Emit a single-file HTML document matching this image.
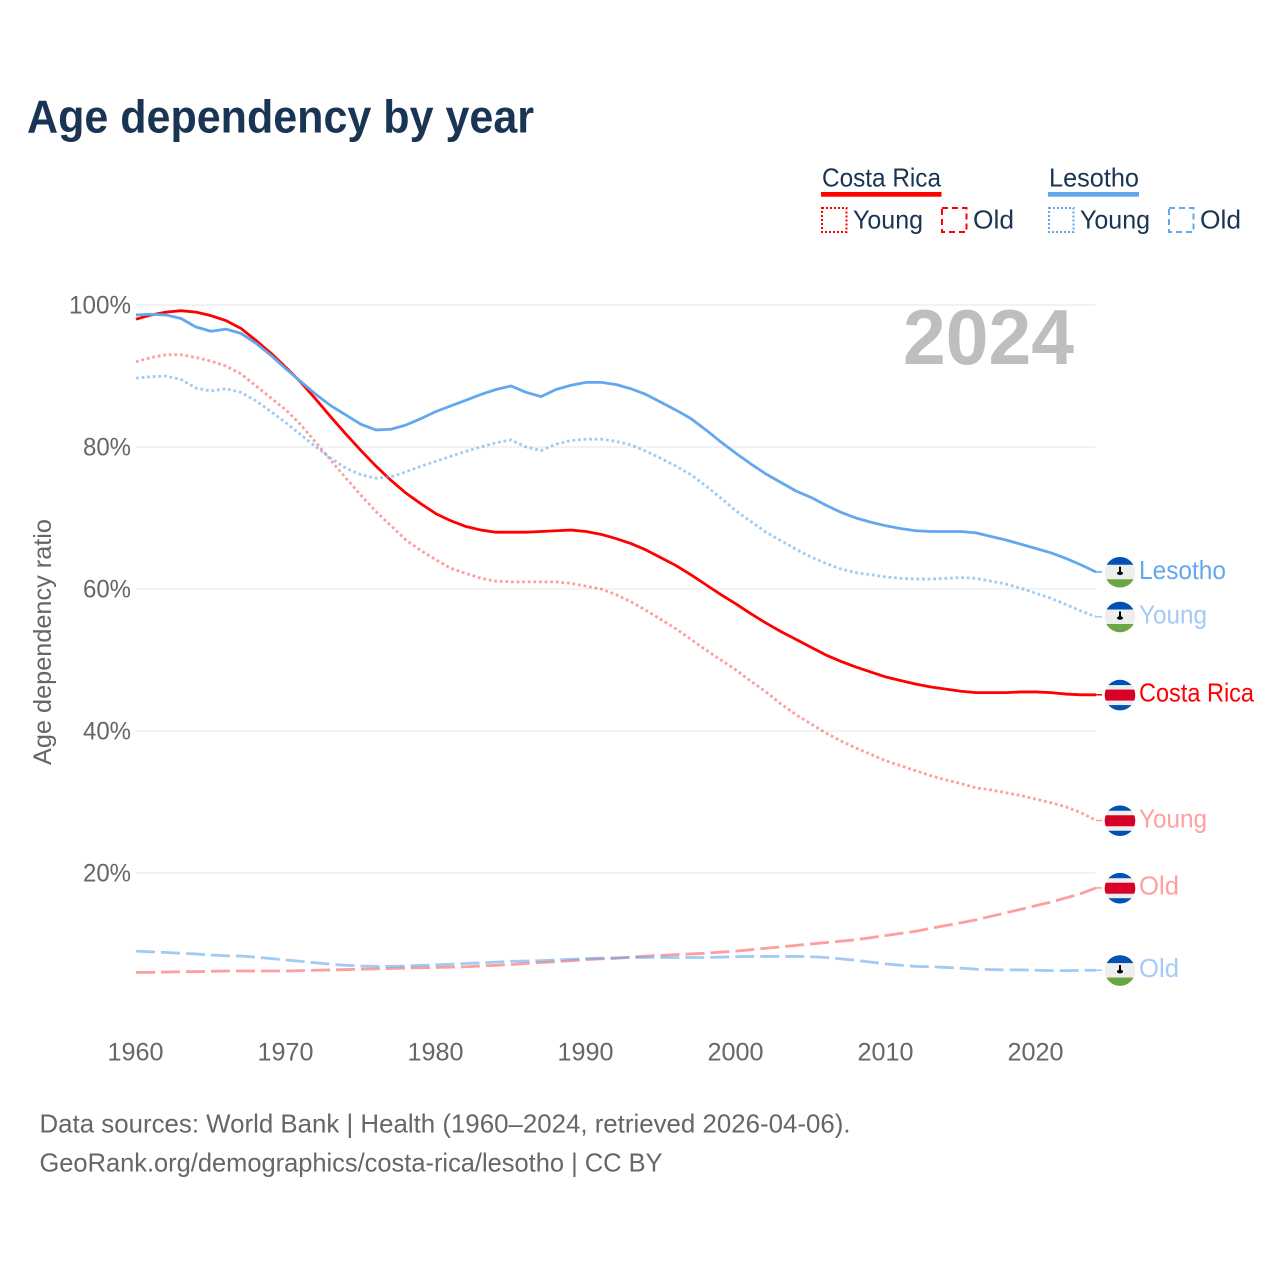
<!DOCTYPE html>
<html lang="en">
<head>
<meta charset="utf-8">
<title>Age dependency by year</title>
<style>
html,body{margin:0;padding:0;background:#fff;}
svg{display:block;font-family:"Liberation Sans",sans-serif;}
</style>
</head>
<body>
<svg id="chart" xmlns="http://www.w3.org/2000/svg" width="1280" height="1280" viewBox="0 0 1280 1280">
  <defs>
    <clipPath id="flag-clip"><circle cx="15.5" cy="15.5" r="15.3"/></clipPath>
    <symbol id="flag-ls" width="31" height="31" viewBox="0 0 31 31">
      <g clip-path="url(#flag-clip)">
        <rect width="31" height="31" fill="#eeeeee"/>
        <rect width="31" height="8" fill="#0052b4"/>
        <rect y="22.5" width="31" height="8.5" fill="#6da544"/>
        <rect x="14.5" y="10" width="2" height="6" fill="#000"/>
        <ellipse cx="15.5" cy="16.5" rx="3" ry="1.8" fill="#000"/>
      </g>
    </symbol>
    <symbol id="flag-cr" width="31" height="31" viewBox="0 0 31 31">
      <g clip-path="url(#flag-clip)">
        <rect width="31" height="31" fill="#eeeeee"/>
        <rect width="31" height="5.5" fill="#0052b4"/>
        <rect y="10" width="31" height="11" fill="#d80027"/>
        <rect y="25.5" width="31" height="5.5" fill="#0052b4"/>
      </g>
    </symbol>
  </defs>
  <rect width="1280" height="1280" fill="#ffffff"/>
  <text x="27" y="132.500" font-size="46" font-weight="700" fill="#1a3454" textLength="507" lengthAdjust="spacingAndGlyphs">Age dependency by year</text>

  <g font-size="26" fill="#1a3454">
    <text x="822" y="186.300" textLength="119" lengthAdjust="spacingAndGlyphs">Costa Rica</text>
    <rect x="821" y="192" width="120.500" height="4.700" fill="#ff0000"/>
    <rect x="822" y="208" width="24.500" height="24" fill="none" stroke="#ff0000" stroke-width="2" stroke-dasharray="2 2"/>
    <text x="853" y="228.300" textLength="70" lengthAdjust="spacingAndGlyphs">Young</text>
    <rect x="942" y="208" width="24.500" height="24" fill="none" stroke="#ff0000" stroke-width="2" stroke-dasharray="6 4"/>
    <text x="973" y="228.300" textLength="41" lengthAdjust="spacingAndGlyphs">Old</text>

    <text x="1049" y="186.300" textLength="90" lengthAdjust="spacingAndGlyphs">Lesotho</text>
    <rect x="1048" y="192" width="91" height="4.700" fill="#63a8ee"/>
    <rect x="1049" y="208" width="24.500" height="24" fill="none" stroke="#63a8ee" stroke-width="2" stroke-dasharray="2 2"/>
    <text x="1080" y="228.300" textLength="70" lengthAdjust="spacingAndGlyphs">Young</text>
    <rect x="1169" y="208" width="24.500" height="24" fill="none" stroke="#63a8ee" stroke-width="2" stroke-dasharray="6 4"/>
    <text x="1200" y="228.300" textLength="41" lengthAdjust="spacingAndGlyphs">Old</text>
  </g>

  <g id="grid"></g>
  <g id="y-axis"></g>
  <g id="x-axis"></g>
  <text x="903" y="364" font-size="78" font-weight="700" fill="#bebebe" textLength="171" lengthAdjust="spacingAndGlyphs">2024</text>
  <text transform="translate(51,765) rotate(-90)" font-size="25" fill="#666666" textLength="246" lengthAdjust="spacingAndGlyphs">Age dependency ratio</text>
  <g id="series"></g>
  <g id="end-labels"></g>

  <text x="39.500" y="1132.300" font-size="26" fill="#666666" textLength="811" lengthAdjust="spacingAndGlyphs">Data sources: World Bank | Health (1960–2024, retrieved 2026-04-06).</text>
  <text x="39.500" y="1171.300" font-size="26" fill="#666666" textLength="623" lengthAdjust="spacingAndGlyphs">GeoRank.org/demographics/costa-rica/lesotho | CC BY</text>
</svg>
<script>
const startYear = 1960;
const xTicks = [1960, 1970, 1980, 1990, 2000, 2010, 2020];
const yTicks = [20, 40, 60, 80, 100];
const yTickLabels = ['20%', '40%', '60%', '80%', '100%'];

const costaRicaTotal = [
  98.0, 98.6, 99.0, 99.2, 99.0, 98.5, 97.8, 96.7, 95.0, 93.2,
  91.2, 89.1, 86.7, 84.2, 81.8, 79.5, 77.3, 75.3, 73.5, 72.0,
  70.6, 69.6, 68.8, 68.3, 68.0, 68.0, 68.0, 68.1, 68.2, 68.3,
  68.1, 67.7, 67.1, 66.4, 65.5, 64.4, 63.3, 62.0, 60.6, 59.2,
  57.9, 56.5, 55.2, 54.0, 52.9, 51.8, 50.7, 49.8, 49.0, 48.3,
  47.6, 47.1, 46.6, 46.2, 45.9, 45.6, 45.4, 45.4, 45.4, 45.5,
  45.5, 45.4, 45.2, 45.1, 45.1
];
const costaRicaYoung = [
  92.0, 92.6, 93.0, 93.0, 92.6, 92.1, 91.4, 90.3, 88.6, 86.9,
  85.2, 83.1, 80.6, 78.1, 75.6, 73.2, 70.9, 68.9, 66.9, 65.4,
  64.1, 62.9, 62.2, 61.5, 61.1, 61.0, 61.0, 61.0, 61.0, 60.8,
  60.4, 60.0, 59.2, 58.2, 57.0, 55.7, 54.4, 52.9, 51.4, 50.0,
  48.6, 47.0, 45.5, 43.8, 42.3, 41.0, 39.7, 38.6, 37.6, 36.7,
  35.8, 35.1, 34.4, 33.7, 33.1, 32.6, 32.0, 31.7, 31.3, 30.9,
  30.4, 29.9, 29.3, 28.5, 27.4
];
const costaRicaOld = [
  6.0, 6.0, 6.05, 6.1, 6.1, 6.15, 6.2, 6.2, 6.2, 6.2,
  6.2, 6.25, 6.3, 6.35, 6.4, 6.45, 6.5, 6.55, 6.6, 6.65,
  6.7, 6.75, 6.8, 6.9, 7.0, 7.1, 7.25, 7.4, 7.5, 7.65,
  7.8, 7.9, 8.0, 8.15, 8.3, 8.4, 8.5, 8.6, 8.7, 8.85,
  9.0, 9.2, 9.4, 9.6, 9.8, 10.0, 10.2, 10.4, 10.6, 10.9,
  11.2, 11.5, 11.8, 12.2, 12.6, 13.0, 13.4, 13.9, 14.4, 14.9,
  15.4, 15.9, 16.5, 17.1, 17.9
];
const lesothoTotal = [
  98.6, 98.7, 98.6, 98.1, 96.9, 96.3, 96.6, 96.0, 94.6, 92.9,
  91.0, 89.2, 87.4, 85.8, 84.5, 83.2, 82.4, 82.5, 83.1, 84.0,
  85.0, 85.8, 86.6, 87.4, 88.1, 88.6, 87.7, 87.1, 88.1, 88.7,
  89.1, 89.1, 88.8, 88.2, 87.4, 86.3, 85.2, 84.0, 82.4, 80.7,
  79.1, 77.6, 76.2, 75.0, 73.8, 72.9, 71.8, 70.8, 70.0, 69.4,
  68.9, 68.5, 68.2, 68.1, 68.1, 68.1, 67.9, 67.4, 66.9, 66.3,
  65.7, 65.1, 64.3, 63.4, 62.4
];
const lesothoYoung = [
  89.7, 89.9, 90.0, 89.5, 88.3, 87.9, 88.2, 87.7, 86.5, 85.0,
  83.4, 81.7, 80.0, 78.4, 77.0, 76.1, 75.6, 75.8, 76.5, 77.3,
  78.0, 78.7, 79.4, 80.0, 80.6, 81.0, 80.0, 79.5, 80.4, 80.9,
  81.1, 81.1, 80.8, 80.3, 79.4, 78.4, 77.3, 76.1, 74.5, 72.8,
  71.0, 69.5, 68.0, 66.8, 65.6, 64.5, 63.6, 62.8, 62.3, 62.0,
  61.7, 61.5, 61.4, 61.4, 61.5, 61.6, 61.5, 61.1, 60.7, 60.1,
  59.4, 58.7, 57.8, 56.9, 56.1
];
const lesothoOld = [
  9.0, 8.9, 8.8, 8.7, 8.6, 8.45, 8.35, 8.3, 8.15, 7.95,
  7.75, 7.55, 7.35, 7.15, 7.0, 6.9, 6.85, 6.85, 6.9, 7.0,
  7.05, 7.15, 7.25, 7.35, 7.45, 7.55, 7.6, 7.65, 7.75, 7.85,
  7.95, 8.0, 8.05, 8.1, 8.1, 8.1, 8.1, 8.1, 8.1, 8.15,
  8.2, 8.25, 8.25, 8.25, 8.25, 8.2, 8.1, 7.9, 7.7, 7.45,
  7.2, 7.0, 6.85, 6.8, 6.7, 6.6, 6.45, 6.4, 6.35, 6.35,
  6.3, 6.25, 6.25, 6.3, 6.3
];

const NS = 'http://www.w3.org/2000/svg';
function xScale(year) { return 136 + (year - 1960) * 15; }
function yScale(v) { return 305 + (100 - v) * 7.1; }
function make(tag, parent) {
  const el = document.createElementNS(NS, tag);
  parent.appendChild(el);
  return el;
}

const gridGroup = document.getElementById('grid');
const yAxisGroup = document.getElementById('y-axis');
yTicks.forEach(function (tick, i) {
  const line = make('line', gridGroup);
  
  
  line.setAttribute('x1', 136);
  line.setAttribute('x2', 1095);
  line.setAttribute('y1', yScale(tick));
  line.setAttribute('y2', yScale(tick));
  line.setAttribute('stroke', '#eeeeee');
  line.setAttribute('stroke-width', 1.5);
  const label = make('text', yAxisGroup);
  
  
  const width = yTickLabels[i].length === 4 ? 62 : 48;
  label.setAttribute('x', 131 - width);
  label.setAttribute('y', yScale(tick) + 8.3);
  label.setAttribute('font-size', 25);
  label.setAttribute('fill', '#666666');
  label.setAttribute('textLength', width);
  label.setAttribute('lengthAdjust', 'spacingAndGlyphs');
  label.textContent = yTickLabels[i];
});

const xAxisGroup = document.getElementById('x-axis');
xTicks.forEach(function (tick) {
  const label = make('text', xAxisGroup);
  
  
  label.setAttribute('x', xScale(tick) - 28.5);
  label.setAttribute('y', 1060.3);
  label.setAttribute('font-size', 25);
  label.setAttribute('fill', '#666666');
  label.setAttribute('textLength', 56);
  label.setAttribute('lengthAdjust', 'spacingAndGlyphs');
  label.textContent = String(tick);
});

const seriesGroup = document.getElementById('series');
const labelGroup = document.getElementById('end-labels');

function drawSeries(name, values, color, opacity, dash, width) {
  const points = values.map(function (v, i) {
    return xScale(startYear + i).toFixed(1) + ',' + yScale(v).toFixed(2);
  }).join(' ');
  const path = make('polyline', seriesGroup);
  
  
  path.setAttribute('points', points);
  path.setAttribute('fill', 'none');
  path.setAttribute('stroke', color);
  path.setAttribute('stroke-opacity', opacity);
  path.setAttribute('stroke-width', width);
  path.setAttribute('stroke-linejoin', 'round');
  if (dash) path.setAttribute('stroke-dasharray', dash);
  const last = yScale(values[values.length - 1]);
  const connector = make('line', seriesGroup);
  
  
  connector.setAttribute('x1', xScale(startYear + values.length - 1));
  connector.setAttribute('x2', 1102);
  connector.setAttribute('y1', last);
  connector.setAttribute('y2', last);
  connector.setAttribute('stroke', color);
  connector.setAttribute('stroke-opacity', opacity);
  connector.setAttribute('stroke-width', 1.5);
}

function drawEndLabel(name, values, flag, text, textWidth, color) {
  const last = yScale(values[values.length - 1]);
  const use = make('use', labelGroup);
  
  
  use.setAttribute('href', '#' + flag);
  use.setAttribute('x', 1104.5);
  use.setAttribute('y', last - 15.2);
  use.setAttribute('width', 31);
  use.setAttribute('height', 31);
  const label = make('text', labelGroup);
  
  
  label.setAttribute('x', 1139);
  label.setAttribute('y', last + 6.8);
  label.setAttribute('font-size', 26);
  label.setAttribute('fill', color);
  label.setAttribute('textLength', textWidth);
  label.setAttribute('lengthAdjust', 'spacingAndGlyphs');
  label.textContent = text;
}

drawSeries('costa-rica-old', costaRicaOld, '#ff0000', 0.38, '19 6', 2.8);
drawSeries('costa-rica-young', costaRicaYoung, '#ff0000', 0.38, '2.8 2.8', 2.8);
drawSeries('costa-rica-total', costaRicaTotal, '#ff0000', 1, '', 2.8);
drawSeries('lesotho-old', lesothoOld, '#63a8ee', 0.6, '19 6', 2.8);
drawSeries('lesotho-young', lesothoYoung, '#63a8ee', 0.6, '2.8 2.8', 2.8);
drawSeries('lesotho-total', lesothoTotal, '#63a8ee', 1, '', 2.8);

drawEndLabel('lesotho-total', lesothoTotal, 'flag-ls', 'Lesotho', 87, '#63a8ee');
drawEndLabel('lesotho-young', lesothoYoung, 'flag-ls', 'Young', 68, '#a2cbf5');
drawEndLabel('costa-rica-total', costaRicaTotal, 'flag-cr', 'Costa Rica', 115, '#ff0000');
drawEndLabel('costa-rica-young', costaRicaYoung, 'flag-cr', 'Young', 68, '#ff9fa0');
drawEndLabel('costa-rica-old', costaRicaOld, 'flag-cr', 'Old', 40, '#ff9fa0');
drawEndLabel('lesotho-old', lesothoOld, 'flag-ls', 'Old', 40, '#a2cbf5');
</script>
</body>
</html>
